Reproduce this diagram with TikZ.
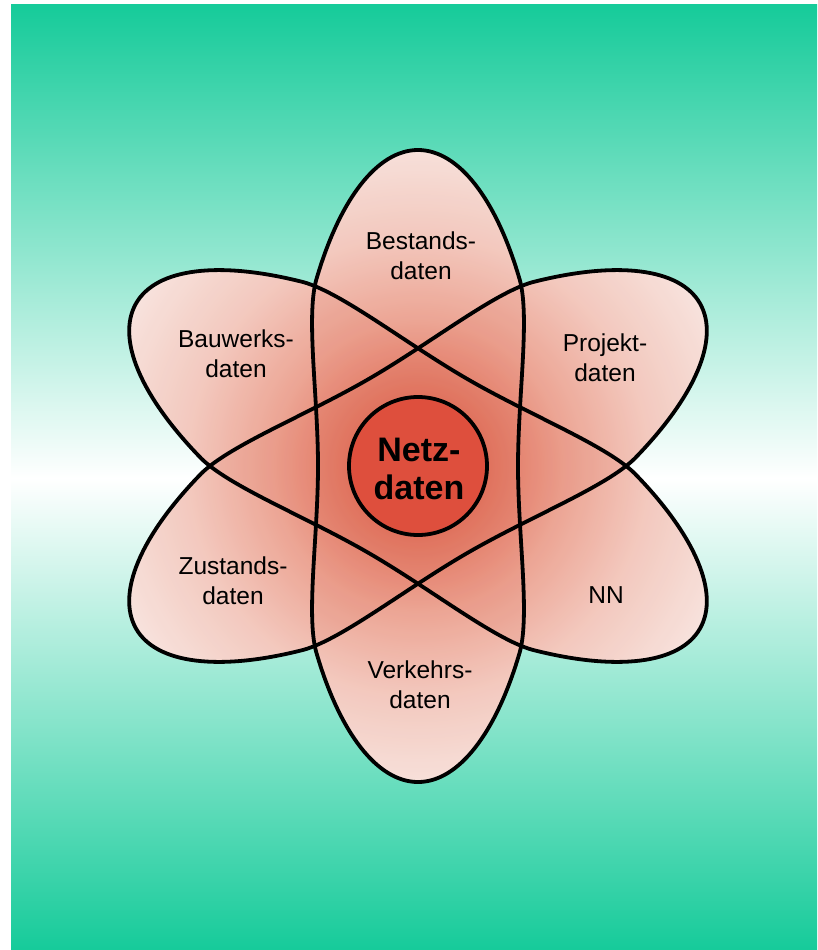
\documentclass[tikz,border=0pt]{standalone}
\usepackage{fontspec}
\setmainfont{Liberation Sans}
\definecolor{bggreen}{RGB}{22,203,154}
\definecolor{pc0}{RGB}{224,104,84}
\definecolor{pc1}{RGB}{228,124,104}
\definecolor{pc2}{RGB}{239,174,158}
\definecolor{pc3}{RGB}{246,214,205}
\definecolor{pc4}{RGB}{252,244,241}
\definecolor{overlay}{RGB}{217,87,63}
\definecolor{coreRed}{RGB}{222,79,61}
\pgfdeclareradialshading{petal}{\pgfpoint{0bp}{0bp}}{color(0bp)=(pc0); color(5bp)=(pc1); color(11bp)=(pc2); color(17.5bp)=(pc3); color(25bp)=(pc4); color(50bp)=(pc4)}
\newcommand{\lobepath}{(0,-316) .. controls (40.3,-316) and (78.2,-267.6) .. (101.9,-185.7) .. controls (112,-148) and (100,-70) .. (100,0) .. controls (100,70) and (112,148) .. (101.9,185.7) .. controls (78.2,267.6) and (40.3,316) .. (0,316) .. controls (-40.3,316) and (-78.2,267.6) .. (-101.9,185.7) .. controls (-112,148) and (-100,70) .. (-100,0) .. controls (-100,-70) and (-112,-148) .. (-101.9,-185.7) .. controls (-78.2,-267.6) and (-40.3,-316) .. (0,-316) -- cycle}
\tikzset{
  petalline/.style={draw=black, line width=3.8pt},
  petalover/.style={fill=overlay, fill opacity=0.10},
  lobeV/.style={shift={(418,466)}},
  lobeA/.style={shift={(418,466)}, rotate=60, yscale=1.03},
  lobeB/.style={shift={(418,466)}, rotate=-60, yscale=1.03},
  lbl/.style={font=\fontsize{24.5}{30}\selectfont, align=center, text=black, inner sep=0pt},
  corelbl/.style={font=\bfseries\fontsize{34}{38}\selectfont, align=center, text=black, inner sep=0pt}
}
\begin{document}
\begin{tikzpicture}[x=1pt, y=-1pt]
\useasboundingbox (0,0) rectangle (817,950);
\fill[white] (0,0) rectangle (817,950);
\shade[top color=bggreen, bottom color=white] (11,5) rectangle (817,479);
\shade[top color=white, bottom color=bggreen] (11,478) rectangle (817,950);
\coordinate (c) at (418,466);
% base fills
\foreach \st in {lobeV,lobeA,lobeB}{
  \begin{scope}
    \clip[\st] \lobepath;
    \shade[shading=petal] (c) circle (330pt);
  \end{scope}
}
% overlays
\foreach \st in {lobeV,lobeA,lobeB}{
  \path[petalover, \st] \lobepath;
}
% outlines
\foreach \st in {lobeV,lobeA,lobeB}{
  \path[petalline, \st] \lobepath;
}
% core
\node[circle, minimum size=138pt, inner sep=0pt, fill=coreRed, draw=black, line width=3.8pt] (core) at (c) {};
\node[corelbl] (netz) at (419,469) {Netz-\\daten};
% labels
\node[lbl] (bestand) at (421,256) {Bestands-\\daten};
\node[lbl] (bauwerk) at (236,354) {Bauwerks-\\daten};
\node[lbl] (projekt) at (605,358) {Projekt-\\daten};
\node[lbl] (zustand) at (233,581) {Zustands-\\daten};
\node[lbl] (nn) at (606,595) {NN};
\node[lbl] (verkehr) at (420,685) {Verkehrs-\\daten};
\end{tikzpicture}
\end{document}
